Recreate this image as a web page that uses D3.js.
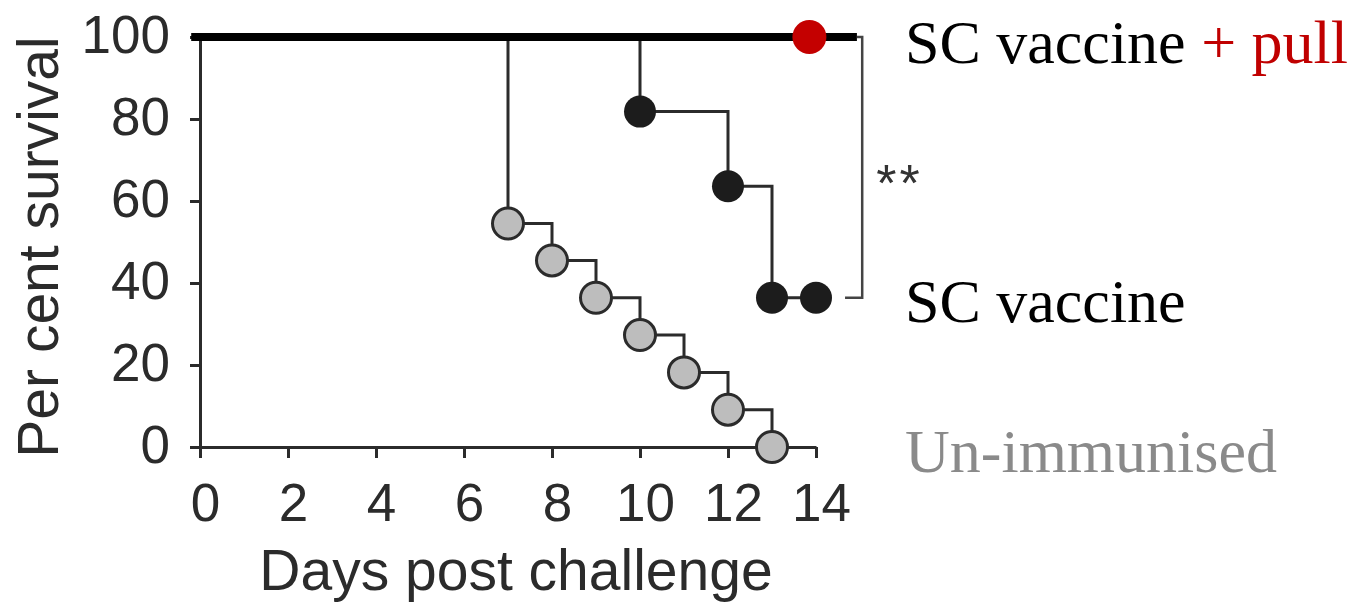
<!DOCTYPE html>
<html>
<head>
<meta charset="utf-8">
<script src="https://cdn.jsdelivr.net/npm/d3@7"></script>
<style>
  html, body { margin: 0; padding: 0; background: #fff; }
  svg { display: block; }
  .axis path, .axis line { stroke: #2b2b2b; stroke-width: 3px; }
  .axis text { font-family: "Liberation Sans", Arial, sans-serif; font-size: 53px; fill: #2b2b2b; }
</style>
</head>
<body>
<svg width="1368" height="603"></svg>
<script>
// survival data (per cent)
var xTicks = [0, 2, 4, 6, 8, 10, 12, 14];
var yTicks = [0, 20, 40, 60, 80, 100];

var pullDays = [-0.2, 14.93];
var pullSurv = [100, 100];
var pullCensor = [13.85];          // red dot

var vacDays = [0, 10, 12, 13, 14];
var vacSurv = [100, 81.8, 63.6, 36.4, 36.4];

var unDays = [0, 7, 8, 9, 10, 11, 12, 13];
var unSurv = [100, 54.5, 45.5, 36.4, 27.3, 18.2, 9.1, 0];

var labels = ["SC vaccine", "SC vaccine", "Un-immunised"];
var labelSurv = [100, 36.4, 0];

var svg = d3.select("svg");

var x = d3.scaleLinear().domain([0, 14]).range([200, 816]);
var y = d3.scaleLinear().domain([0, 100]).range([447, 37]);

// axes
svg.append("g")
    .attr("class", "axis")
    .attr("transform", "translate(0," + y(0) + ")")
    .call(d3.axisBottom(x).tickValues(xTicks).tickSize(11).tickSizeOuter(0).tickPadding(25))
    .selectAll("text").attr("dx", 5);

svg.append("g")
    .attr("class", "axis")
    .attr("transform", "translate(" + x(0) + ",0)")
    .call(d3.axisLeft(y).tickValues(yTicks).tickSize(10).tickSizeOuter(0).tickPadding(20))
    .selectAll("text").attr("dy", "0.3em");

// axis titles
svg.append("text")
    .attr("x", 516).attr("y", 590)
    .attr("text-anchor", "middle")
    .style("font-family", "Liberation Sans, Arial, sans-serif")
    .style("font-size", "57px").style("fill", "#2b2b2b")
    .text("Days post challenge");

svg.append("text")
    .attr("transform", "translate(58," + 247 + ") rotate(-90)")
    .attr("text-anchor", "middle")
    .style("font-family", "Liberation Sans, Arial, sans-serif")
    .style("font-size", "57px").style("fill", "#2b2b2b")
    .text("Per cent survival");

function zip(a, b) {
    return a.map(function(d, i) { return [d, b[i]]; });
}

var step = d3.line()
    .x(function(d) { return x(d[0]); })
    .y(function(d) { return y(d[1]); })
    .curve(d3.curveStepAfter);

// un-immunised
svg.append("path")
    .attr("d", step(zip(unDays, unSurv)))
    .attr("fill", "none").attr("stroke", "#2b2b2b").attr("stroke-width", 3);

// SC vaccine
svg.append("path")
    .attr("d", step(zip(vacDays, vacSurv)))
    .attr("fill", "none").attr("stroke", "#2b2b2b").attr("stroke-width", 3);

// SC vaccine + pull (thick line)
svg.append("path")
    .attr("d", step(zip(pullDays, pullSurv)))
    .attr("fill", "none").attr("stroke", "#000").attr("stroke-width", 8);

// significance bracket
var bx = x(15.05), bl = x(14.66);
svg.append("path")
    .attr("d", "M" + x(14.93) + "," + y(100) + "H" + bx + "V" + y(36.4) + "H" + bl)
    .attr("fill", "none").attr("stroke", "#444").attr("stroke-width", 2.5);

svg.append("text")
    .attr("x", x(15.9)).attr("y", 201)
    .attr("text-anchor", "middle")
    .style("font-family", "Liberation Sans, Arial, sans-serif")
    .style("font-size", "52px").style("fill", "#333")
    .style("letter-spacing", "3px")
    .text("**");

// markers
svg.selectAll("circle.un")
    .data(zip(unDays, unSurv).slice(1))
    .enter().append("circle")
    .attr("class", "un")
    .attr("cx", function(d) { return x(d[0]); })
    .attr("cy", function(d) { return y(d[1]); })
    .attr("r", 15.5)
    .attr("fill", "#bdbdbd").attr("stroke", "#2b2b2b").attr("stroke-width", 3);

svg.selectAll("circle.vac")
    .data(zip(vacDays, vacSurv).slice(1))
    .enter().append("circle")
    .attr("class", "vac")
    .attr("cx", function(d) { return x(d[0]); })
    .attr("cy", function(d) { return y(d[1]); })
    .attr("r", 16)
    .attr("fill", "#1c1c1c");

svg.selectAll("circle.pull")
    .data(pullCensor)
    .enter().append("circle")
    .attr("class", "pull")
    .attr("cx", function(d) { return x(d); })
    .attr("cy", y(100))
    .attr("r", 17)
    .attr("fill", "#c40000");

// series labels
var lab = svg.selectAll("text.lab")
    .data(labels)
    .enter().append("text")
    .attr("class", "lab")
    .attr("x", 905)
    .attr("y", function(d, i) { return y(labelSurv[i]) + [26, 24, 25][i]; })
    .style("font-family", "Liberation Serif, Times New Roman, serif")
    .style("font-size", "62px")
    .style("fill", function(d, i) { return i == 2 ? "#8a8a8a" : "#000"; })
    .text(function(d) { return d; });

lab.filter(function(d, i) { return i == 0; })
    .append("tspan")
    .style("fill", "#c00000")
    .text(" + pull");
</script>
</body>
</html>
